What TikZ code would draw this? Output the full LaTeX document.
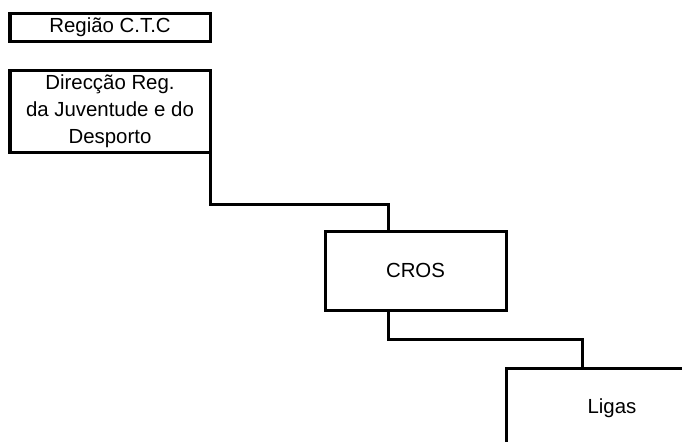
\documentclass[tikz,border=0pt]{standalone}
\usepackage{fontspec}
\setmainfont{Liberation Sans}
\usepackage{xcolor}

\begin{document}
\begin{tikzpicture}[x=0.5pt, y=-0.5pt, line width = 1.5pt,
  box/.style={draw, rectangle, inner sep=0pt, outer sep=0pt, align=center,
    font=\fontsize{10.2}{13.5}\selectfont}]

\useasboundingbox (0,0) rectangle (682,441);
\clip (0,0) rectangle (682,441);

\node[box, minimum width=100pt, minimum height=14pt] (regiao) at (110,27) {Região C.T.C};
\node[box, minimum width=100pt, minimum height=41pt] (direccao) at (110,111)
  {Direcção Reg.\\da Juventude e do\\Desporto};
\node[box, minimum width=90.5pt, minimum height=39.5pt] (cros) at (415.5,270.5) {CROS};
\node[box, minimum width=106pt, minimum height=40pt] (ligas) at (612,408) {Ligas};

\coordinate (j1) at (388,204);
\coordinate (j2) at (582,339);

\draw (direccao.south east) |- (j1) -- (j1 |- cros.north);
\draw (cros.south -| j1) |- (j2) -- (j2 |- ligas.north);

\end{tikzpicture}
\end{document}
